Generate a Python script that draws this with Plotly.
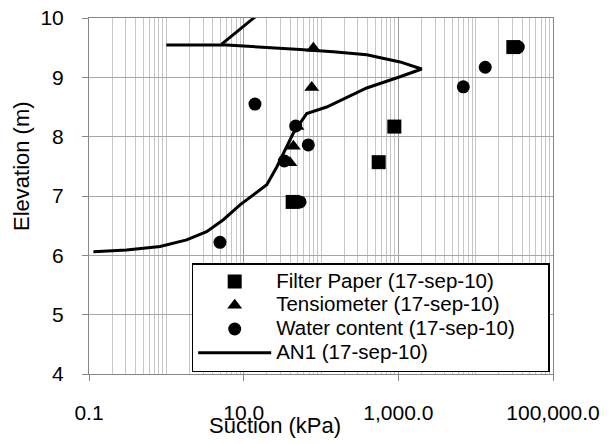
import plotly.graph_objects as go

# ---- data ----
fp_suction = [43, 888, 557, 30700]
fp_elev = [6.90, 8.17, 7.57, 9.51]

ten_suction = [79.6, 75.9, 49, 43.9, 39.7]
ten_elev = [9.49, 8.83, 8.17, 7.84, 7.56]

wc_suction = [14.0, 47.1, 68.5, 33.6, 53.6, 4.94, 6920, 13300, 35600]
wc_elev = [8.55, 8.18, 7.86, 7.59, 6.90, 6.22, 8.84, 9.17, 9.51]

an1_suction = [0.114, 0.306, 0.83, 1.83, 3.32, 5.46, 8.97, 19.9, 26.8, 36.0, 43.9, 53.6,
               65.4, 118.5, 390, 1052, 2006, 1052, 390, 144, 53.6, 6.04, 1.0,
               None, 5.2, 13.3, 25.9]
an1_elev = [6.06, 6.09, 6.15, 6.26, 6.40, 6.60, 6.85, 7.19, 7.49, 7.83, 8.06, 8.23,
            8.39, 8.50, 8.82, 9.01, 9.14, 9.26, 9.38, 9.43, 9.47, 9.545, 9.545,
            None, 9.56, 10.0, 10.3]

x_tickvals = [0.1, 10, 1000, 100000]
x_ticktext = ["0.1", "10.0", "1,000.0", "100,000.0"]
y_tickvals = [4, 5, 6, 7, 8, 9, 10]

FONT = "Arial, Liberation Sans, sans-serif"


def legend_name(s, pad=0):
    return '<span style="font-size:20.5px">' + s + "\u00a0" * pad + '</span>'


fig = go.Figure()
fig.add_trace(go.Scatter(x=fp_suction, y=fp_elev, mode="markers",
                         name=legend_name("Filter Paper (17-sep-10)"),
                         marker=dict(symbol="square", size=14, color="black")))
fig.add_trace(go.Scatter(x=ten_suction, y=ten_elev, mode="markers",
                         name=legend_name("Tensiometer (17-sep-10)"),
                         marker=dict(symbol="triangle-up", size=13, color="black")))
fig.add_trace(go.Scatter(x=wc_suction, y=wc_elev, mode="markers",
                         name=legend_name("Water content (17-sep-10)", pad=5),
                         marker=dict(symbol="circle", size=13, color="black")))
fig.add_trace(go.Scatter(x=an1_suction, y=an1_elev, mode="lines",
                         name=legend_name("AN1 (17-sep-10)"), connectgaps=False,
                         line=dict(color="black", width=3)))

minor_vals = [d * 10 ** k for k in range(-1, 5) for d in range(1, 10)]

fig.update_xaxes(type="log", range=[-1, 5], automargin=False,
                 tickvals=x_tickvals, ticktext=x_ticktext,
                 showgrid=True, gridcolor="#9e9e9e", gridwidth=1,
                 minor=dict(tickvals=minor_vals, showgrid=True, gridcolor="#c6c6c6",
                            gridwidth=1, ticks=""),
                 ticks="outside", ticklen=6, tickcolor="#868686",
                 showline=True, linecolor="#868686", linewidth=1, mirror=True,
                 ticklabelstandoff=14,
                 tickfont=dict(family=FONT, size=21, color="black"),
                 zeroline=False)
fig.update_yaxes(range=[4, 10], tickvals=y_tickvals, automargin=False,
                 showgrid=True, gridcolor="#a6a6a6", gridwidth=1,
                 ticks="outside", ticklen=6, tickcolor="#868686",
                 showline=True, linecolor="#868686", linewidth=1, mirror=True,
                 ticklabelstandoff=14,
                 tickfont=dict(family=FONT, size=21, color="black"),
                 zeroline=False)

fig.add_annotation(text="Suction (kPa)", xref="paper", yref="paper",
                   x=(275 - 89) / 464, y=-(425 - 374) / 356,
                   xanchor="center", yanchor="middle", showarrow=False,
                   font=dict(family=FONT, size=22, color="black"))
fig.add_annotation(text="Elevation (m)", xref="paper", yref="paper",
                   x=-(89 - 21) / 464, y=(374 - 166) / 356, textangle=-90,
                   xanchor="center", yanchor="middle", showarrow=False,
                   font=dict(family=FONT, size=22, color="black"))

fig.update_layout(
    width=609, height=444,
    margin=dict(l=89, r=56, t=18, b=70, autoexpand=False),
    paper_bgcolor="white", plot_bgcolor="white",
    font=dict(family=FONT, color="black"),
    showlegend=True,
    legend=dict(x=(191.7 - 89) / 464, y=(374 - 263) / 356,
                xanchor="left", yanchor="top",
                bgcolor="white", bordercolor="black", borderwidth=1.5,
                font=dict(family=FONT, size=16, color="black"),
                itemwidth=73, tracegroupgap=0),
)

fig.write_html("out.html")
